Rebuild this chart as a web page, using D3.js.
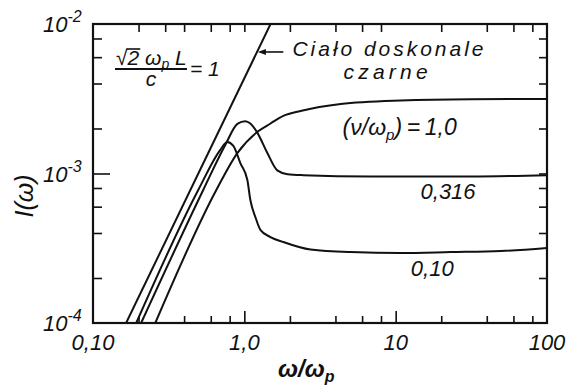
<!DOCTYPE html>
<html>
<head>
<meta charset="utf-8">
<script src="https://cdn.jsdelivr.net/npm/d3@7"></script>
<style>
  body { margin: 0; background: #fff; }
  svg { display: block; }
  text { font-family: "Liberation Sans", Arial, sans-serif; font-style: italic; fill: #111; }
</style>
</head>
<body>
<svg id="chart" width="567" height="385"></svg>
<script>
// Spectral intensity I(ω) versus ω/ω_p, log–log, for several collision rates ν/ω_p.
const blackBody = [[0.1655, 1e-4], [1.49, 1e-2]];

const nu100 = [ // ν/ω_p = 1,0
  [0.258, 1.0e-4], [0.653, 7.76e-4], [0.899, 1.37e-3], [1.22, 1.90e-3], [1.49, 2.16e-3],
  [1.81, 2.43e-3], [2.35, 2.62e-3], [4.33, 2.92e-3], [10.8, 3.08e-3],
  [31.4, 3.14e-3], [100, 3.15e-3]
];
const nu316 = [ // ν/ω_p = 0,316
  [0.208, 1.0e-4], [0.535, 7.76e-4], [0.748, 1.55e-3], [0.90, 2.15e-3], [1.015, 2.24e-3],
  [1.096, 2.16e-3], [1.22, 1.87e-3], [1.42, 1.37e-3], [1.65, 1.05e-3], [1.93, 9.9e-4],
  [2.46, 9.75e-4], [6.8, 9.55e-4], [31.4, 9.55e-4], [100, 9.75e-4]
];
const nu010 = [ // ν/ω_p = 0,10
  [0.193, 1.0e-4], [0.496, 7.76e-4], [0.694, 1.44e-3], [0.771, 1.625e-3], [0.846, 1.53e-3],
  [0.941, 1.175e-3], [1.047, 9.05e-4], [1.096, 6.65e-4], [1.184, 5.1e-4], [1.277, 4.2e-4],
  [1.487, 3.76e-4], [1.81, 3.48e-4], [2.74, 3.1e-4], [5.03, 2.98e-4], [10.8, 2.94e-4],
  [23.1, 2.98e-4], [49.5, 3.03e-4], [100, 3.18e-4]
];

const xMajor = [0.1, 1, 10, 100];
const xMajorLabels = ["0,10", "1,0", "10", "100"];
const xMinorBottom = [0.2, 0.4, 0.6, 0.8, 2, 4, 6, 8, 20, 40, 60, 80];
const xTicksTop = [0.2, 0.3, 0.4, 0.6, 0.8, 1, 2, 4, 6, 8, 20, 40, 60, 80];
const yMajor = [1e-2, 1e-3, 1e-4];
const yMajorExp = ["-2", "-3", "-4"];
const yMinor = [2e-4, 4e-4, 6e-4, 8e-4, 2e-3, 4e-3, 6e-3, 8e-3];

const svg = d3.select("#chart");
const x = d3.scaleLog().domain([0.1, 100]).range([93, 547]);
const y = d3.scaleLog().domain([1e-4, 1e-2]).range([323, 24]);
const ink = "#111";

// inward ticks
function ticks(axisGen, transform) {
  const g = svg.append("g").attr("transform", transform).call(axisGen);
  g.select(".domain").remove();
  g.selectAll("line").attr("stroke", ink).attr("stroke-width", 1.6);
  g.selectAll("text").remove();
}
ticks(d3.axisBottom(x).tickValues(xMinorBottom).tickSize(-7), `translate(0,${y(1e-4)})`);
ticks(d3.axisBottom(x).tickValues([1, 10]).tickSize(-12), `translate(0,${y(1e-4)})`);
ticks(d3.axisTop(x).tickValues(xTicksTop).tickSize(-8), `translate(0,${y(1e-2)})`);
ticks(d3.axisLeft(y).tickValues(yMinor).tickSize(-9), `translate(${x(0.1)},0)`);
ticks(d3.axisLeft(y).tickValues([1e-3]).tickSize(-17), `translate(${x(0.1)},0)`);
ticks(d3.axisRight(y).tickValues(yMinor.concat([1e-3])).tickSize(-8), `translate(${x(100)},0)`);

// frame
svg.append("rect")
  .attr("x", x(0.1)).attr("y", y(1e-2))
  .attr("width", x(100) - x(0.1)).attr("height", y(1e-4) - y(1e-2))
  .attr("fill", "none").attr("stroke", ink).attr("stroke-width", 2.2);

// curves
svg.append("clipPath").attr("id", "plot").append("rect")
  .attr("x", x(0.1)).attr("y", y(1e-2))
  .attr("width", x(100) - x(0.1)).attr("height", y(1e-4) - y(1e-2));
const curves = svg.append("g").attr("clip-path", "url(#plot)");
[blackBody, nu100, nu316, nu010].forEach(s => {
  curves.append("path").attr("d", d3.line().x(d => x(d[0])).y(d => y(d[1]))
      .curve(s === blackBody ? d3.curveLinear : d3.curveMonotoneX)(s))
    .attr("fill", "none").attr("stroke", ink).attr("stroke-width", 2)
    .attr("stroke-linejoin", "round");
});

// x tick labels
xMajor.forEach((v, i) => {
  svg.append("text").attr("x", x(v)).attr("y", 350)
    .attr("text-anchor", "middle").attr("font-size", 22).text(xMajorLabels[i]);
});
// y tick labels
yMajor.forEach((v, i) => {
  const t = svg.append("text").attr("x", 43).attr("y", y(v) + 8).attr("font-size", 22);
  t.append("tspan").text("10");
  t.append("tspan").attr("font-size", 16).attr("dy", -10).text(yMajorExp[i]);
});

// axis titles
const yt = svg.append("text").attr("transform", "translate(33,196) rotate(-90)")
  .attr("text-anchor", "middle").attr("font-size", 25);
yt.append("tspan").text("I(ω)");

const xt = svg.append("text").attr("x", 278).attr("y", 377).attr("font-size", 24).attr("font-weight", "bold");
xt.append("tspan").text("ω/ω");
xt.append("tspan").attr("font-size", 16).attr("dy", 5).text("p");

// √2 ω_p L / c = 1
const num = svg.append("text").attr("x", 116).attr("y", 65).attr("font-size", 21);
num.append("tspan").text("√2 ω");
num.append("tspan").attr("font-size", 14).attr("dy", 4).text("p");
num.append("tspan").attr("dy", -4).text(" L");
const nn = num.node();
const wRoot = nn.getSubStringLength(0, 1), wTwo = nn.getSubStringLength(1, 1);
svg.append("line").attr("x1", 116 + wRoot - 1).attr("x2", 116 + wRoot + wTwo + 1)
  .attr("y1", 49).attr("y2", 49).attr("stroke", ink).attr("stroke-width", 1.6);
svg.append("line").attr("x1", 115).attr("x2", 187).attr("y1", 69).attr("y2", 69)
  .attr("stroke", ink).attr("stroke-width", 2);
svg.append("text").attr("x", 151).attr("y", 86).attr("text-anchor", "middle").attr("font-size", 21).text("c");
svg.append("text").attr("x", 190).attr("y", 76).attr("font-size", 21).text("= 1");

// black-body annotation with arrow
svg.append("text").attr("x", x(2.08)).attr("y", y(6.1e-3)).attr("font-size", 21)
  .attr("textLength", 191).attr("lengthAdjust", "spacing").text("Ciało doskonale");
svg.append("text").attr("x", x(4.53)).attr("y", y(4.28e-3)).attr("font-size", 21)
  .attr("textLength", 84).attr("lengthAdjust", "spacing").text("czarne");
const ay = y(6.5e-3), ax0 = x(1.81), ax1 = x(1.23);
svg.append("line").attr("x1", ax0).attr("x2", ax1 + 2).attr("y1", ay).attr("y2", ay)
  .attr("stroke", ink).attr("stroke-width", 1.6);
svg.append("path").attr("d", `M${ax1},${ay} l8,-3 l0,6 z`).attr("fill", ink);

// curve labels
const l1 = svg.append("text").attr("x", x(4.46)).attr("y", y(1.81e-3)).attr("font-size", 23);
l1.append("tspan").text("(ν/ω");
l1.append("tspan").attr("font-size", 15).attr("dy", 5).text("p");
l1.append("tspan").attr("dy", -5).text(")\u2009=\u20091,0");
svg.append("text").attr("x", x(14.6)).attr("y", y(6.75e-4)).attr("font-size", 22).text("0,316");
svg.append("text").attr("x", x(12.6)).attr("y", y(2.06e-4)).attr("font-size", 22).text("0,10");
</script>
</body>
</html>
